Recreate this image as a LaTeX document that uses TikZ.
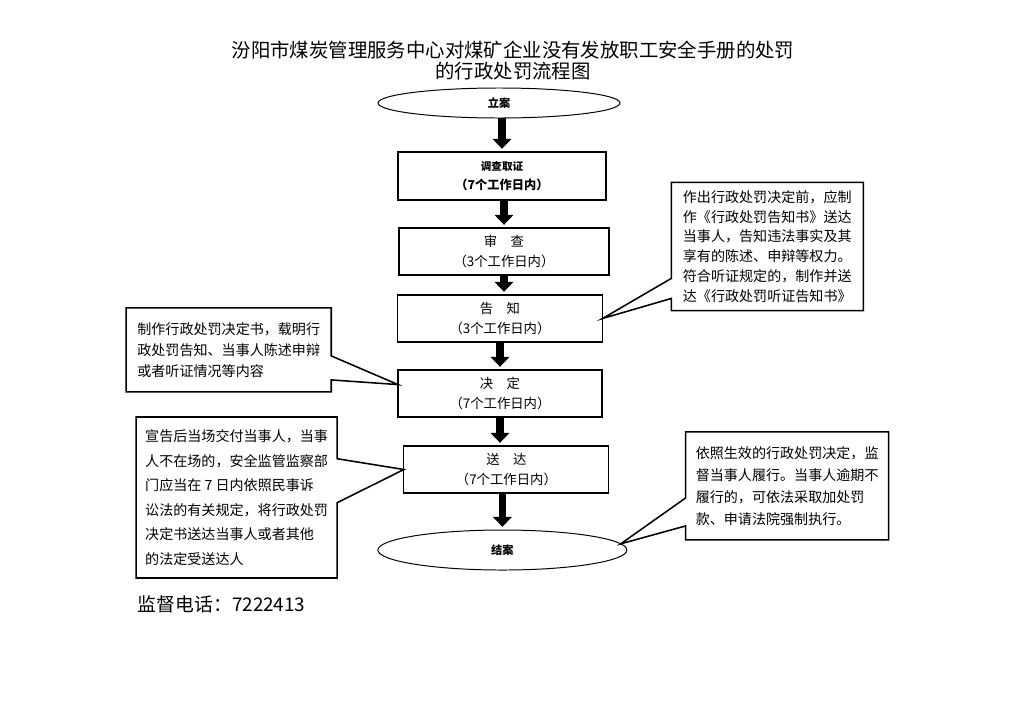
\documentclass[tikz,border=0pt]{standalone}
\usepackage{fontspec}
\setmainfont{Noto Sans CJK SC}
\usetikzlibrary{arrows.meta,positioning,shapes.geometric,shapes.callouts}

\tikzset{
  stepbox/.style={rectangle, draw=black, line width=0.8pt, outer sep=0pt, minimum width=52mm, minimum height=11.75mm, inner sep=0pt, align=center, font=\fontsize{9.5}{14.2}\selectfont},
  endpoint/.style={ellipse, draw=black, line width=0.7pt, outer sep=0pt, inner sep=0pt, font=\bfseries\fontsize{8}{10}\selectfont},
  note/.style={rectangle callout, draw=black, line width=1.1pt, fill=white, align=left, inner sep=2mm},
  bigarrow/.style={line width=5pt, -{Triangle[width=13pt,length=7pt]}, shorten >=0.8mm}
}

\begin{document}
\begin{tikzpicture}[x=0.25mm, y=-0.25mm]
\useasboundingbox (0,0) rectangle (1024,724);

\node (title) at (513,60.5) [align=center, font=\fontsize{13.8}{15}\selectfont] {汾阳市煤炭管理服务中心对煤矿企业没有发放职工安全手册的处罚\\的行政处罚流程图};

\node (lian) at (499,103) [endpoint, minimum width=60.5mm, minimum height=7.5mm] {立案};
\node (diaocha) [below=8.5mm of lian, xshift=0.75mm, stepbox, minimum height=12mm, font=\bfseries\fontsize{7.5}{13.5}\selectfont] {调查取证\\{\fontsize{8.7}{13.5}\selectfont（7个工作日内）}};
\node (shencha) [below=7mm of diaocha, xshift=0.5mm, stepbox, minimum width=52.5mm] {审　查\\（3个工作日内）};
\node (gaozhi) [below=5mm of shencha, xshift=-1mm, stepbox, minimum width=51.25mm] {告　知\\（3个工作日内）};
\node (jueding) [below=7mm of gaozhi, stepbox, minimum width=51mm] {决　定\\（7个工作日内）};
\node (songda) [below=7.25mm of jueding, xshift=1.6mm, stepbox, minimum width=51.25mm] {送　达\\（7个工作日内）};
\node (jiean) [below=9.25mm of songda, xshift=-1mm, endpoint, minimum width=62.25mm, minimum height=10mm] {结案};

% notes beside the steps
\node (note1) [note, right=17mm of gaozhi, yshift=18mm, minimum width=48mm, minimum height=30.5mm,
  callout absolute pointer={(gaozhi.east)}, callout pointer width=5mm,
  font=\fontsize{10}{14.1}\selectfont]
  {作出行政处罚决定前，应制\\作《行政处罚告知书》送达\\当事人，告知违法事实及其\\享有的陈述、申辩等权力。\\符合听证规定的，制作并送\\达《行政处罚听证告知书》};
\node (note2) [note, left=16.5mm of jueding, yshift=10.9mm, minimum width=51.25mm, minimum height=21mm,
  callout absolute pointer={(jueding.175)}, callout pointer width=6mm,
  font=\fontsize{10}{14.9}\selectfont]
  {制作行政处罚决定书，载明行\\政处罚告知、当事人陈述申辩\\或者听证情况等内容};
\node (note3) [note, left=16.5mm of songda, yshift=-7mm, minimum width=50.25mm, minimum height=40.25mm,
  callout absolute pointer={(songda.west)}, callout pointer width=11mm,
  font=\fontsize{10}{17.4}\selectfont]
  {宣告后当场交付当事人，当事\\人不在场的，安全监管监察部\\门应当在 7 日内依照民事诉\\讼法的有关规定，将行政处罚\\决定书送达当事人或者其他\\的法定受送达人};
\node (note4) [note, right=19mm of songda, yshift=-4.1mm, minimum width=50.75mm, minimum height=27mm,
  callout absolute pointer={(jiean.3)}, callout pointer width=7mm,
  font=\fontsize{10}{15.6}\selectfont]
  {依照生效的行政处罚决定，监\\督当事人履行。当事人逾期不\\履行的，可依法采取加处罚\\款、申请法院强制执行。};

\node (phone) at (133,604) [anchor=west, font=\fontsize{13.4}{16}\selectfont] {监督电话：7222413};

\draw [bigarrow] (diaocha.north |- lian.south) -- (diaocha.north);
\draw [bigarrow] (shencha.north |- diaocha.south) -- (shencha.north);
\draw [bigarrow] (shencha.south) -- (shencha.south |- gaozhi.north);
\draw [bigarrow] (jueding.north |- gaozhi.south) -- (jueding.north);
\draw [bigarrow] (jueding.south) -- (jueding.south |- songda.north);
\draw [bigarrow] (jiean.north |- songda.south) -- (jiean.north);
\end{tikzpicture}
\end{document}
